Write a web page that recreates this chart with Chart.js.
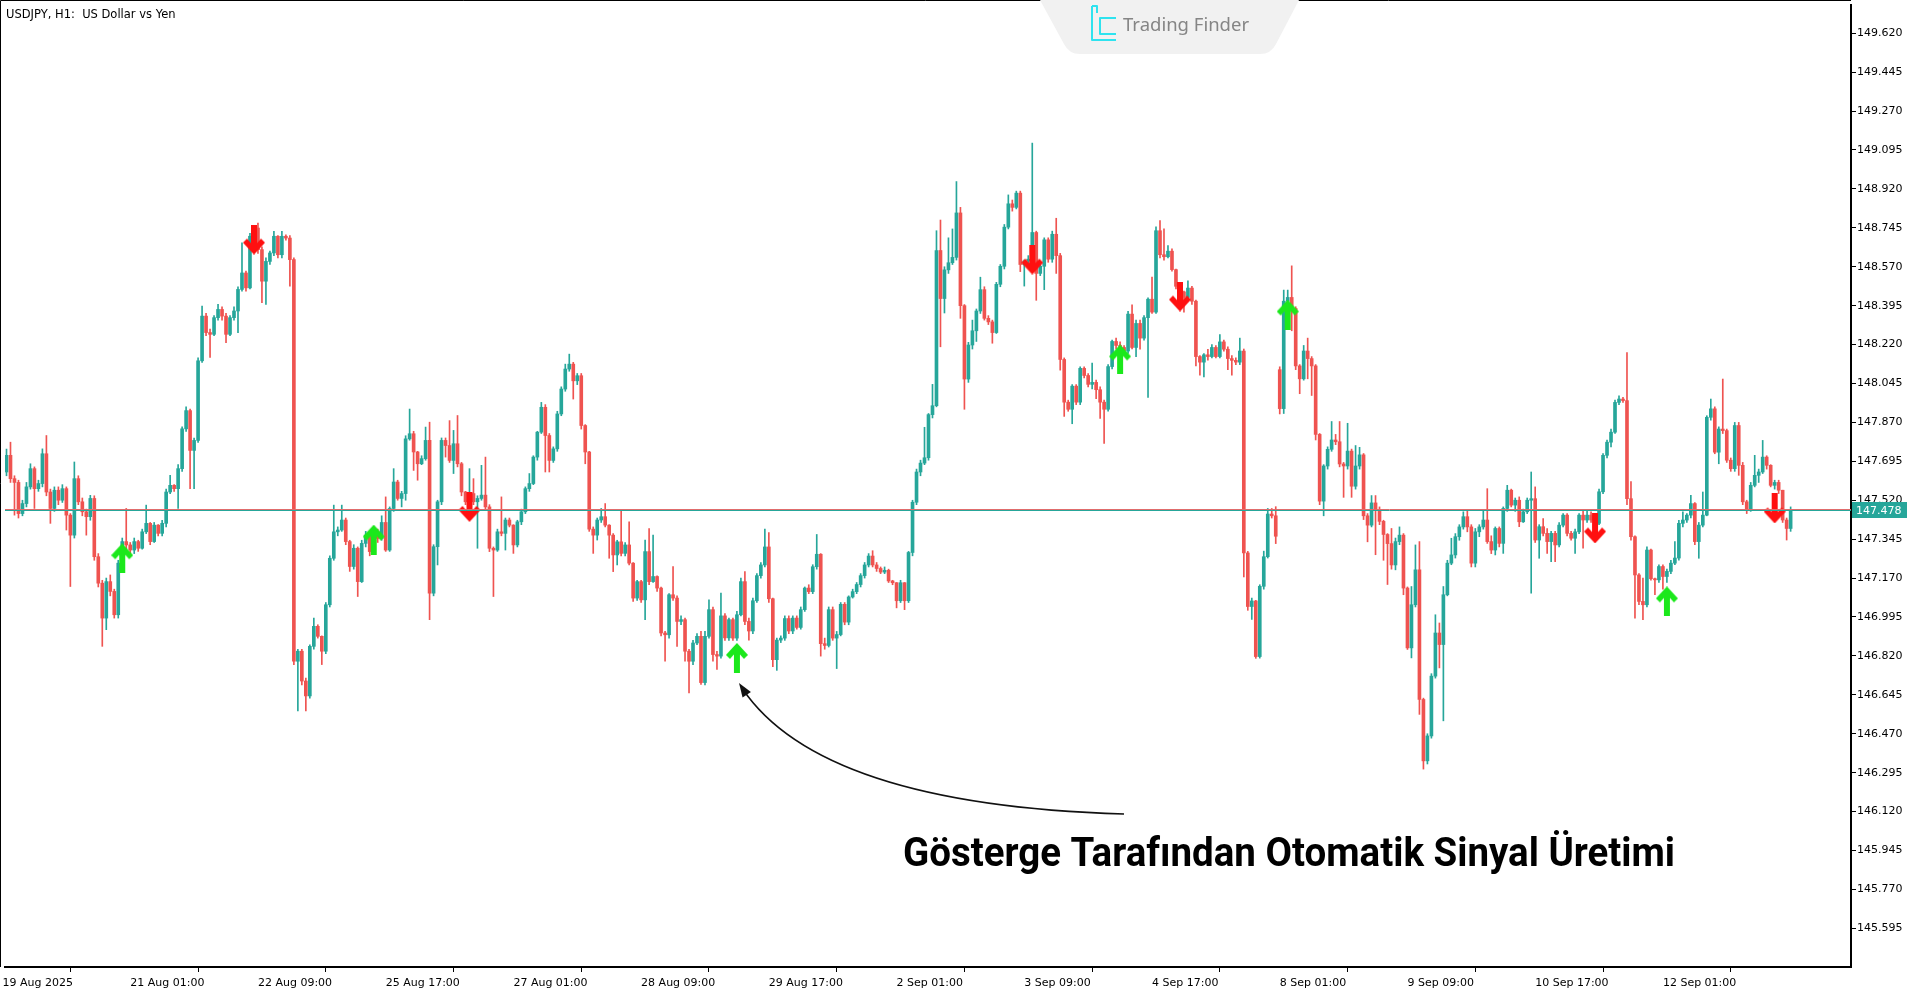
<!DOCTYPE html>
<html>
<head>
<meta charset="utf-8">
<title>USDJPY H1</title>
<script src="https://cdn.jsdelivr.net/npm/chart.js@4.4.1/dist/chart.umd.min.js"></script>
<style>
  html, body { margin: 0; padding: 0; background: #fff; overflow: hidden; }
  #chart { display: block; }
</style>
</head>
<body>
<canvas id="chart" width="1919" height="996"></canvas>
<script>
// hourly candles, 19 Aug 17:00 -> 15 Sep 08:00 (open = previous close unless listed in gapOpens)
const firstOpen = 147.647
const gapOpens = [[319, 148.107]]

const closes = [
  147.722, 147.617, 147.600, 147.460, 147.505, 147.580, 147.662, 147.572, 147.595, 147.729,
  147.557, 147.483, 147.565, 147.520, 147.572, 147.453, 147.363, 147.617, 147.513, 147.468,
  147.446, 147.528, 147.266, 147.147, 146.990, 147.154, 147.110, 147.005, 147.237, 147.334,
  147.319, 147.296, 147.334, 147.304, 147.378, 147.416, 147.334, 147.408, 147.371, 147.416,
  147.557, 147.587, 147.572, 147.662, 147.841, 147.923, 147.744, 147.789, 148.147, 148.348,
  148.274, 148.266, 148.341, 148.378, 148.348, 148.266, 148.341, 148.371, 148.468, 148.542,
  148.475, 148.707, 148.744, 148.647, 148.505, 148.594, 148.632, 148.707, 148.624, 148.707,
  148.699, 148.602, 146.796, 146.841, 146.707, 146.640, 146.863, 146.953, 146.908, 146.841,
  147.050, 147.259, 147.378, 147.386, 147.431, 147.334, 147.222, 147.304, 147.154, 147.326,
  147.363, 147.289, 147.378, 147.348, 147.420, 147.296, 147.483, 147.602, 147.528, 147.550,
  147.796, 147.819, 147.737, 147.684, 147.707, 147.789, 147.102, 147.311, 147.513, 147.789,
  147.766, 147.699, 147.774, 147.684, 147.557, 147.513, 147.550, 147.513, 147.528, 147.543,
  147.490, 147.304, 147.296, 147.378, 147.371, 147.431, 147.408, 147.319, 147.423, 147.468,
  147.572, 147.595, 147.714, 147.826, 147.938, 147.811, 147.699, 147.751, 147.908, 148.020,
  148.110, 148.132, 148.057, 148.080, 147.856, 147.737, 147.390, 147.363, 147.431, 147.446,
  147.408, 147.363, 147.274, 147.333, 147.281, 147.319, 147.237, 147.080, 147.154, 147.072,
  147.289, 147.154, 147.177, 147.125, 146.923, 146.915, 147.095, 147.080, 146.975, 146.983,
  146.841, 146.796, 146.878, 146.908, 146.700, 146.908, 147.028, 146.826, 146.819, 147.000,
  146.901, 146.983, 146.900, 147.005, 147.154, 146.975, 146.932, 147.068, 147.181, 147.229,
  147.310, 147.077, 146.803, 146.891, 146.900, 146.988, 146.932, 146.990, 146.948, 147.028,
  147.125, 147.109, 147.221, 147.277, 146.875, 146.867, 147.028, 146.900, 146.916, 147.052,
  146.972, 147.085, 147.109, 147.141, 147.181, 147.229, 147.269, 147.229, 147.213, 147.197,
  147.205, 147.157, 147.149, 147.068, 147.149, 147.068, 147.285, 147.511, 147.647, 147.687,
  147.711, 147.905, 147.945, 148.643, 148.427, 148.556, 148.588, 148.612, 148.812, 148.395,
  148.065, 148.218, 148.282, 148.371, 148.467, 148.338, 148.322, 148.274, 148.491, 148.572,
  148.748, 148.853, 148.837, 148.901, 148.580, 148.595, 148.604, 148.724, 148.540, 148.572,
  148.691, 148.604, 148.716, 148.620, 148.153, 147.961, 147.929, 148.033, 147.961, 148.113,
  148.081, 148.041, 148.050, 148.017, 147.961, 147.929, 148.121, 148.234, 148.216, 148.207,
  148.191, 148.357, 148.207, 148.315, 148.249, 148.341, 148.424, 148.366, 148.732, 148.624,
  148.615, 148.640, 148.557, 148.482, 148.457, 148.432, 148.474, 148.415, 148.166, 148.141,
  148.174, 148.166, 148.207, 148.166, 148.232, 148.199, 148.157, 148.149, 148.141, 148.191,
  147.283, 147.042, 147.067, 146.817, 147.133, 147.266, 147.458, 147.450, 147.358, 147.932,
  148.415, 148.432, 148.382, 148.124, 148.066, 148.191, 148.157, 148.124, 147.816, 147.516,
  147.674, 147.749, 147.791, 147.783, 147.683, 147.674, 147.741, 147.583, 147.674, 147.724,
  147.450, 147.408, 147.508, 147.475, 147.425, 147.366, 147.325, 147.229, 147.334, 147.363,
  147.125, 146.856, 147.050, 147.207, 146.624, 146.348, 146.460, 146.729, 146.923, 146.871,
  147.095, 147.237, 147.274, 147.356, 147.400, 147.446, 147.400, 147.237, 147.378, 147.400,
  147.431, 147.334, 147.296, 147.393, 147.326, 147.483, 147.565, 147.498, 147.520, 147.423,
  147.468, 147.520, 147.527, 147.341, 147.401, 147.371, 147.334, 147.371, 147.319, 147.408,
  147.453, 147.371, 147.349, 147.378, 147.453, 147.431, 147.453, 147.431, 147.416, 147.558,
  147.722, 147.781, 147.826, 147.960, 147.975, 147.968, 147.527, 147.356, 147.184, 147.065,
  147.050, 147.296, 147.167, 147.162, 147.222, 147.177, 147.200, 147.237, 147.260, 147.416,
  147.431, 147.453, 147.505, 147.334, 147.408, 147.453, 147.893, 147.931, 147.736, 147.840,
  147.833, 147.700, 147.662, 147.856, 147.677, 147.513, 147.475, 147.587, 147.632, 147.647,
  147.714, 147.677, 147.587, 147.600, 147.565, 147.431, 147.393, 147.478,
]

const highs = [
  147.750, 147.781, 147.630, 147.610, 147.520, 147.600, 147.684, 147.670, 147.610, 147.751,
  147.811, 147.570, 147.580, 147.580, 147.590, 147.580, 147.460, 147.692, 147.630, 147.530,
  147.480, 147.542, 147.540, 147.280, 147.160, 147.170, 147.184, 147.120, 147.250, 147.350,
  147.483, 147.330, 147.350, 147.340, 147.390, 147.498, 147.420, 147.420, 147.410, 147.430,
  147.570, 147.632, 147.590, 147.680, 147.850, 147.940, 147.930, 147.800, 148.160, 148.393,
  148.360, 148.290, 148.350, 148.401, 148.390, 148.360, 148.350, 148.390, 148.480, 148.677,
  148.550, 148.720, 148.751, 148.766, 148.660, 148.610, 148.640, 148.729, 148.710, 148.729,
  148.714, 148.710, 148.610, 146.850, 146.850, 146.720, 146.870, 146.990, 146.960, 146.910,
  147.060, 147.270, 147.498, 147.400, 147.498, 147.440, 147.340, 147.320, 147.310, 147.340,
  147.380, 147.370, 147.390, 147.390, 147.450, 147.535, 147.490, 147.662, 147.610, 147.560,
  147.810, 147.930, 147.830, 147.740, 147.720, 147.849, 147.871, 147.320, 147.520, 147.800,
  147.800, 147.878, 147.834, 147.901, 147.690, 147.560, 147.662, 147.617, 147.540, 147.677,
  147.714, 147.500, 147.310, 147.390, 147.535, 147.440, 147.440, 147.410, 147.430, 147.480,
  147.580, 147.640, 147.720, 147.830, 147.960, 147.950, 147.820, 147.760, 147.920, 148.030,
  148.132, 148.177, 148.140, 148.090, 148.090, 147.860, 147.740, 147.400, 147.440, 147.483,
  147.505, 147.410, 147.370, 147.340, 147.475, 147.330, 147.423, 147.240, 147.160, 147.160,
  147.341, 147.393, 147.363, 147.180, 147.130, 146.930, 147.100, 147.222, 147.090, 147.000,
  146.990, 146.850, 146.890, 146.920, 146.930, 146.930, 147.072, 147.040, 146.840, 147.102,
  147.010, 146.990, 146.990, 147.020, 147.170, 147.199, 146.990, 147.080, 147.190, 147.240,
  147.390, 147.374, 147.080, 146.900, 146.910, 147.000, 147.000, 147.000, 147.000, 147.040,
  147.130, 147.140, 147.230, 147.366, 147.280, 146.900, 147.040, 147.040, 146.930, 147.060,
  147.060, 147.090, 147.120, 147.150, 147.190, 147.240, 147.280, 147.293, 147.240, 147.220,
  147.220, 147.210, 147.160, 147.150, 147.160, 147.150, 147.290, 147.520, 147.660, 147.700,
  147.848, 147.910, 148.041, 148.732, 148.780, 148.570, 148.700, 148.740, 148.953, 148.837,
  148.400, 148.230, 148.330, 148.380, 148.523, 148.480, 148.350, 148.330, 148.500, 148.580,
  148.760, 148.893, 148.870, 148.910, 148.910, 148.600, 148.620, 149.126, 148.730, 148.580,
  148.700, 148.700, 148.730, 148.788, 148.630, 148.160, 147.970, 148.040, 148.040, 148.120,
  148.120, 148.090, 148.137, 148.060, 148.030, 147.970, 148.130, 148.240, 148.249, 148.232,
  148.216, 148.370, 148.399, 148.330, 148.330, 148.350, 148.430, 148.524, 148.750, 148.778,
  148.740, 148.665, 148.650, 148.560, 148.490, 148.460, 148.507, 148.482, 148.420, 148.170,
  148.180, 148.199, 148.220, 148.216, 148.265, 148.240, 148.210, 148.170, 148.160, 148.249,
  148.200, 147.290, 147.080, 147.070, 147.140, 147.291, 147.483, 147.483, 147.491, 148.120,
  148.465, 148.465, 148.574, 148.390, 148.130, 148.216, 148.249, 148.166, 148.130, 147.820,
  147.680, 147.760, 147.874, 147.816, 147.874, 147.690, 147.866, 147.750, 147.766, 147.758,
  147.730, 147.460, 147.541, 147.541, 147.490, 147.430, 147.370, 147.393, 147.350, 147.400,
  147.370, 147.130, 147.132, 147.319, 147.334, 146.630, 146.470, 146.740, 147.005, 146.968,
  147.132, 147.250, 147.349, 147.370, 147.410, 147.468, 147.475, 147.410, 147.393, 147.410,
  147.475, 147.572, 147.360, 147.400, 147.400, 147.490, 147.587, 147.570, 147.530, 147.535,
  147.480, 147.530, 147.647, 147.580, 147.410, 147.438, 147.393, 147.380, 147.380, 147.420,
  147.460, 147.460, 147.380, 147.390, 147.460, 147.475, 147.470, 147.468, 147.440, 147.570,
  147.730, 147.790, 147.840, 147.970, 147.990, 147.983, 148.184, 147.604, 147.360, 147.190,
  147.170, 147.310, 147.300, 147.170, 147.230, 147.230, 147.210, 147.250, 147.334, 147.430,
  147.468, 147.460, 147.542, 147.510, 147.420, 147.557, 147.900, 147.975, 147.940, 147.850,
  148.065, 147.840, 147.710, 147.870, 147.870, 147.690, 147.520, 147.600, 147.722, 147.660,
  147.789, 147.720, 147.680, 147.610, 147.610, 147.565, 147.440, 147.490,
]

const lows = [
  147.630, 147.600, 147.453, 147.440, 147.450, 147.490, 147.570, 147.483, 147.560, 147.580,
  147.540, 147.416, 147.470, 147.500, 147.510, 147.386, 147.132, 147.350, 147.500, 147.450,
  147.363, 147.430, 147.250, 147.130, 146.863, 146.938, 147.090, 146.990, 146.990, 147.220,
  147.300, 147.270, 147.280, 147.290, 147.300, 147.370, 147.320, 147.330, 147.360, 147.360,
  147.400, 147.550, 147.560, 147.483, 147.650, 147.830, 147.572, 147.572, 147.780, 148.140,
  148.260, 148.162, 148.260, 148.330, 148.330, 148.229, 148.260, 148.330, 148.274, 148.460,
  148.460, 148.470, 148.690, 148.630, 148.408, 148.401, 148.580, 148.620, 148.610, 148.610,
  148.690, 148.483, 146.780, 146.572, 146.690, 146.572, 146.630, 146.850, 146.900, 146.781,
  146.830, 147.040, 147.250, 147.360, 147.380, 147.320, 147.200, 147.210, 147.087, 147.150,
  147.310, 147.270, 147.280, 147.330, 147.340, 147.290, 147.290, 147.470, 147.520, 147.490,
  147.520, 147.790, 147.654, 147.610, 147.680, 147.700, 146.983, 147.090, 147.229, 147.500,
  147.714, 147.690, 147.640, 147.670, 147.540, 147.500, 147.500, 147.500, 147.304, 147.520,
  147.480, 147.289, 147.087, 147.290, 147.360, 147.296, 147.400, 147.281, 147.310, 147.410,
  147.460, 147.560, 147.590, 147.700, 147.820, 147.647, 147.647, 147.690, 147.740, 147.900,
  148.010, 148.100, 147.975, 148.040, 147.840, 147.684, 147.380, 147.281, 147.341, 147.420,
  147.400, 147.259, 147.199, 147.229, 147.270, 147.270, 147.229, 147.065, 147.070, 147.060,
  146.983, 147.140, 147.150, 147.110, 146.910, 146.796, 146.900, 147.070, 146.863, 146.960,
  146.796, 146.654, 146.780, 146.870, 146.692, 146.690, 146.900, 146.796, 146.759, 146.810,
  146.890, 146.890, 146.890, 146.890, 147.000, 146.960, 146.891, 146.920, 147.060, 147.170,
  147.220, 147.060, 146.771, 146.755, 146.880, 146.890, 146.920, 146.920, 146.940, 146.940,
  147.020, 147.100, 147.100, 147.210, 146.819, 146.850, 146.860, 146.890, 146.763, 146.910,
  146.960, 146.960, 147.080, 147.100, 147.130, 147.170, 147.220, 147.220, 147.200, 147.190,
  147.190, 147.150, 147.140, 147.036, 147.060, 147.028, 147.060, 147.270, 147.500, 147.630,
  147.680, 147.700, 147.890, 147.940, 148.210, 148.362, 148.540, 148.580, 148.600, 148.338,
  147.929, 148.050, 148.200, 148.234, 148.360, 148.330, 148.310, 148.226, 148.270, 148.480,
  148.560, 148.740, 148.820, 148.830, 148.548, 148.483, 148.580, 148.590, 148.419, 148.530,
  148.467, 148.590, 148.590, 148.540, 148.105, 147.897, 147.920, 147.864, 147.950, 147.950,
  148.070, 148.030, 148.020, 147.977, 147.888, 147.776, 147.920, 148.110, 148.200, 148.190,
  148.180, 148.180, 148.200, 148.166, 148.199, 148.240, 147.982, 148.360, 148.360, 148.610,
  148.600, 148.610, 148.550, 148.470, 148.440, 148.366, 148.420, 148.400, 148.124, 148.082,
  148.074, 148.150, 148.160, 148.160, 148.160, 148.190, 148.107, 148.082, 148.130, 148.130,
  147.175, 147.025, 146.984, 146.809, 146.810, 147.120, 147.260, 147.440, 147.325, 147.908,
  147.910, 148.400, 148.282, 148.107, 147.999, 148.060, 148.066, 147.991, 147.791, 147.500,
  147.450, 147.660, 147.740, 147.770, 147.670, 147.533, 147.660, 147.533, 147.570, 147.660,
  147.433, 147.333, 147.400, 147.275, 147.410, 147.250, 147.141, 147.210, 147.207, 147.320,
  147.095, 146.849, 146.811, 147.040, 146.557, 146.311, 146.334, 146.450, 146.720, 146.766,
  146.528, 147.090, 147.230, 147.260, 147.340, 147.390, 147.378, 147.220, 147.220, 147.356,
  147.390, 147.326, 147.280, 147.274, 147.310, 147.281, 147.470, 147.490, 147.470, 147.401,
  147.420, 147.460, 147.102, 147.330, 147.259, 147.360, 147.281, 147.244, 147.244, 147.310,
  147.400, 147.360, 147.340, 147.281, 147.370, 147.304, 147.420, 147.420, 147.400, 147.410,
  147.550, 147.710, 147.760, 147.820, 147.950, 147.960, 147.500, 147.340, 146.990, 147.050,
  146.983, 147.040, 147.160, 147.095, 147.150, 147.120, 147.150, 147.190, 147.230, 147.250,
  147.400, 147.420, 147.440, 147.320, 147.259, 147.400, 147.450, 147.880, 147.729, 147.684,
  147.820, 147.690, 147.650, 147.650, 147.632, 147.500, 147.460, 147.470, 147.580, 147.600,
  147.640, 147.660, 147.580, 147.570, 147.550, 147.420, 147.341, 147.380,
]

// indicator arrows: [bar index, price]
const buySignals = [[29, 147.259], [92, 147.343], [183, 146.811], [279, 148.153], [321, 148.355], [416, 147.065]]
const sellSignals = [[62, 148.692], [116, 147.490], [257, 148.602], [294, 148.436], [398, 147.393], [443, 147.483]]

const priceTicks = [
  145.595, 145.770, 145.945, 146.120, 146.295, 146.470, 146.645, 146.820,
  146.995, 147.170, 147.345, 147.520, 147.695, 147.870, 148.045, 148.220,
  148.395, 148.570, 148.745, 148.920, 149.095, 149.270, 149.445, 149.620,
]
const timeLabels = [
  '19 Aug 2025', '21 Aug 01:00', '22 Aug 09:00', '25 Aug 17:00', '27 Aug 01:00',
  '28 Aug 09:00', '29 Aug 17:00', '2 Sep 01:00', '3 Sep 09:00', '4 Sep 17:00',
  '8 Sep 01:00', '9 Sep 09:00', '10 Sep 17:00', '12 Sep 01:00',
]
const barsPerLabel = 32

const UP = '#26a69a'
const DOWN = '#ef5350'
const AXIS_FONT = { family: 'DejaVu Sans', size: 11 }

const opens = closes.map((c, i) => (i === 0 ? firstOpen : closes[i - 1]))
gapOpens.forEach(([i, o]) => { opens[i] = o })

const candleColor = (i) => (closes[i] >= opens[i] ? UP : DOWN)

function makeArrow(color, up) {
  const c = document.createElement('canvas')
  c.width = 22
  c.height = 30
  const g = c.getContext('2d')
  if (!up) {
    g.translate(0, 30)
    g.scale(1, -1)
  }
  g.fillStyle = color
  g.beginPath()
  g.moveTo(11, 0)
  g.lineTo(22, 12)
  g.lineTo(18, 16)
  g.lineTo(14, 11.5)
  g.lineTo(14, 30)
  g.lineTo(8, 30)
  g.lineTo(8, 11.5)
  g.lineTo(4, 16)
  g.lineTo(0, 12)
  g.closePath()
  g.fill()
  return c
}

const chartDecor = {
  id: 'chartDecor',
  beforeDraw(chart) {
    const { ctx, width, height } = chart
    ctx.save()
    ctx.fillStyle = '#fff'
    ctx.fillRect(0, 0, width, height)
    ctx.restore()
  },
  afterDatasetsDraw(chart) {
    const { ctx, chartArea, scales } = chart
    const last = closes[closes.length - 1]
    const py = Math.round(scales.y.getPixelForValue(last)) + 0.5
    ctx.save()
    ctx.lineWidth = 1
    ctx.strokeStyle = '#e06c6c'
    ctx.beginPath()
    ctx.moveTo(chartArea.left, py - 1)
    ctx.lineTo(chartArea.right, py - 1)
    ctx.stroke()
    ctx.strokeStyle = UP
    ctx.beginPath()
    ctx.moveTo(chartArea.left, py)
    ctx.lineTo(chartArea.right, py)
    ctx.stroke()
    ctx.restore()
  },
  afterDraw(chart) {
    const { ctx, chartArea, scales } = chart
    ctx.save()

    // frame
    ctx.strokeStyle = '#000'
    ctx.lineWidth = 1
    ctx.beginPath()
    ctx.moveTo(0.5, chartArea.bottom)
    ctx.lineTo(0.5, 0.5)
    ctx.lineTo(chartArea.right, 0.5)
    ctx.stroke()

    // symbol caption
    ctx.fillStyle = '#000'
    ctx.font = '11.5px "DejaVu Sans"'
    ctx.textBaseline = 'alphabetic'
    ctx.fillText('USDJPY, H1:  US Dollar vs Yen', 6, 18)

    // last price tag
    const last = closes[closes.length - 1]
    const py = Math.round(scales.y.getPixelForValue(last))
    ctx.fillStyle = UP
    ctx.fillRect(chartArea.right + 1, py - 8, 55, 16)
    ctx.fillStyle = '#fff'
    ctx.font = '11px "DejaVu Sans"'
    ctx.textBaseline = 'middle'
    ctx.fillText(last.toFixed(3), chartArea.right + 5, py + 1)

    // logo tab
    ctx.fillStyle = '#f1f1f1'
    ctx.beginPath()
    ctx.moveTo(1040, 0)
    ctx.lineTo(1299, 0)
    ctx.lineTo(1276, 44)
    ctx.quadraticCurveTo(1271, 54, 1260, 54)
    ctx.lineTo(1080, 54)
    ctx.quadraticCurveTo(1069, 54, 1064, 44)
    ctx.closePath()
    ctx.fill()
    ctx.strokeStyle = '#2ee3ef'
    ctx.lineWidth = 2
    ctx.lineJoin = 'round'
    ctx.beginPath()
    ctx.moveTo(1092, 6)
    ctx.lineTo(1097, 6)
    ctx.lineTo(1097, 13)
    ctx.moveTo(1092, 6)
    ctx.lineTo(1092, 40)
    ctx.lineTo(1116, 40)
    ctx.moveTo(1116, 18)
    ctx.lineTo(1100, 18)
    ctx.lineTo(1100, 34)
    ctx.lineTo(1116, 34)
    ctx.stroke()
    ctx.fillStyle = '#858585'
    ctx.font = '18.5px "Noto Sans"'
    ctx.textBaseline = 'middle'
    ctx.fillText('Trading Finder', 1123, 26)

    // annotation arrow
    const tip = { x: 739, y: 683 }
    const ctrl = { x: 820, y: 805 }
    ctx.strokeStyle = '#111'
    ctx.lineWidth = 1.5
    ctx.beginPath()
    ctx.moveTo(1124, 814)
    ctx.quadraticCurveTo(ctrl.x, ctrl.y, tip.x + 3, tip.y + 5)
    ctx.stroke()
    const ang = Math.atan2(tip.y - ctrl.y, tip.x - ctrl.x)
    ctx.fillStyle = '#111'
    ctx.beginPath()
    ctx.moveTo(tip.x, tip.y)
    ctx.lineTo(tip.x - 14 * Math.cos(ang) + 5 * Math.sin(ang), tip.y - 14 * Math.sin(ang) - 5 * Math.cos(ang))
    ctx.lineTo(tip.x - 14 * Math.cos(ang) - 5 * Math.sin(ang), tip.y - 14 * Math.sin(ang) + 5 * Math.cos(ang))
    ctx.closePath()
    ctx.fill()

    ctx.fillStyle = '#000'
    ctx.font = 'bold 41px Roboto'
    ctx.textBaseline = 'alphabetic'
    ctx.fillText('Gösterge Tarafından Otomatik Sinyal Üretimi', 903, 866, 772)

    ctx.restore()
  },
}

const indices = closes.map((_, i) => i)

new Chart(document.getElementById('chart'), {
  type: 'bar',
  data: {
    datasets: [
      {
        type: 'scatter',
        data: buySignals.map(([x, y]) => ({ x, y })),
        pointStyle: makeArrow('#1be81b', true),
        order: 0,
      },
      {
        type: 'scatter',
        data: sellSignals.map(([x, y]) => ({ x, y })),
        pointStyle: makeArrow('#ff1010', false),
        order: 0,
      },
      {
        data: indices.map((i) => ({ x: i, y: [opens[i], closes[i]] })),
        backgroundColor: (ctx) => candleColor(ctx.dataIndex),
        barThickness: 3,
        minBarLength: 1,
        grouped: false,
        borderWidth: 0,
        order: 1,
      },
      {
        data: indices.map((i) => ({ x: i, y: [lows[i], highs[i]] })),
        backgroundColor: (ctx) => candleColor(ctx.dataIndex),
        barThickness: 1,
        grouped: false,
        borderWidth: 0,
        order: 2,
      },
    ],
  },
  options: {
    responsive: false,
    devicePixelRatio: 1,
    animation: false,
    events: [],
    layout: { padding: { top: 1, left: 1, right: 0, bottom: 0 } },
    plugins: {
      legend: { display: false },
      tooltip: { enabled: false },
    },
    scales: {
      x: {
        type: 'linear',
        min: -0.375,
        max: 462.125,
        offset: false,
        afterBuildTicks: (scale) => {
          scale.ticks = timeLabels.map((_, k) => ({ value: k * barsPerLabel }))
        },
        afterFit: (scale) => {
          scale.height = 29
          scale.paddingLeft = 0
          scale.paddingRight = 0
        },
        grid: { display: true, drawOnChartArea: false, drawTicks: true, tickLength: 5, color: '#000' },
        border: { display: true, color: '#000', width: 2 },
        ticks: {
          autoSkip: false,
          maxRotation: 0,
          align: 'start',
          labelOffset: -4,
          padding: 5,
          color: '#000',
          font: AXIS_FONT,
          callback: (value) => timeLabels[Math.round(value / barsPerLabel)] ?? '',
        },
      },
      y: {
        type: 'linear',
        position: 'right',
        min: 145.421,
        max: 149.747,
        afterBuildTicks: (scale) => {
          scale.ticks = priceTicks.map((value) => ({ value }))
        },
        afterFit: (scale) => {
          scale.width = 68
          scale.paddingTop = 0
          scale.paddingBottom = 0
        },
        grid: { display: true, drawOnChartArea: false, drawTicks: true, tickLength: 5, color: '#000' },
        border: { display: true, color: '#000', width: 2 },
        ticks: {
          autoSkip: false,
          padding: 1,
          color: '#000',
          font: AXIS_FONT,
          callback: (value) => Number(value).toFixed(3),
        },
      },
    },
  },
  plugins: [chartDecor],
})
</script>
</body>
</html>
